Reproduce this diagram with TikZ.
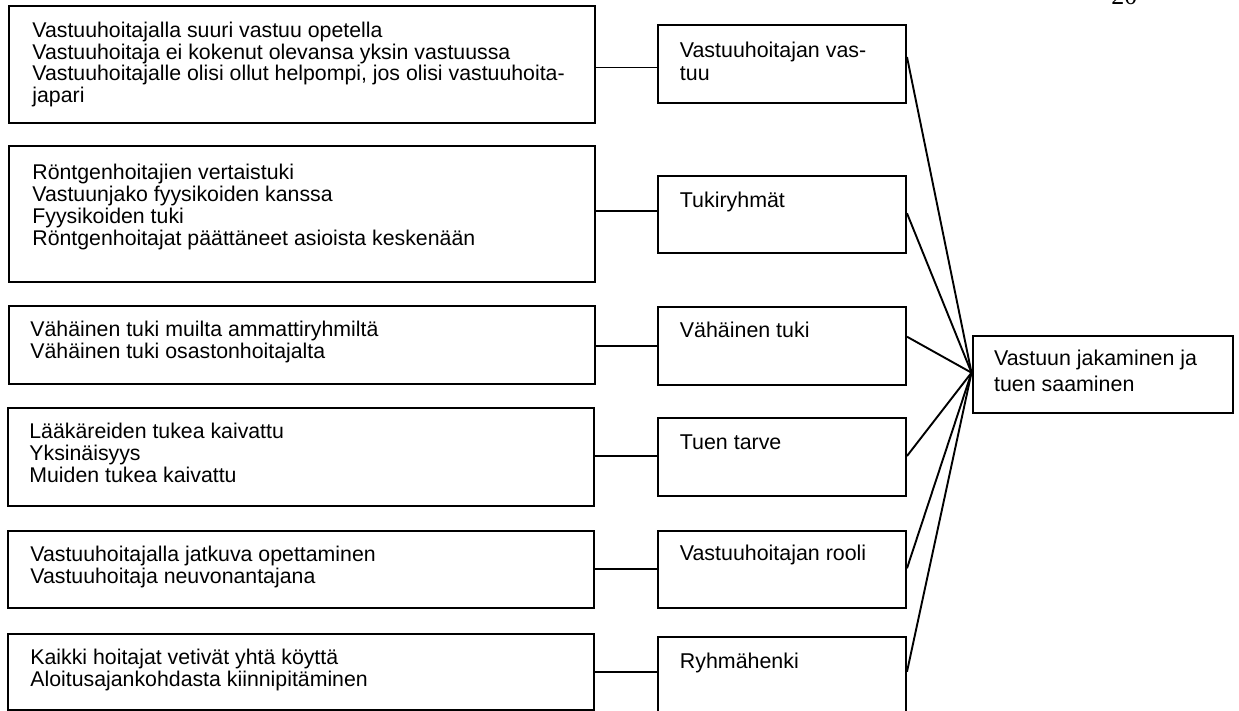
\documentclass[tikz,border=0pt]{standalone}
\usepackage{fontspec}
\setmainfont{Liberation Sans}
\newfontfamily\pagenumfont{Liberation Serif}
\usetikzlibrary{fit}
\tikzset{
  frame/.style={draw=black, line width=1pt, inner sep=0pt, fit={#1}},
  link/.style={draw=black, line width=0.95pt},
  lefttext/.style={inner sep=0pt, anchor=base west, font=\fontsize{10.65}{10.85}\selectfont},
  midtext/.style={inner sep=0pt, anchor=base west, font=\fontsize{10.7}{11.85}\selectfont},
  righttext/.style={inner sep=0pt, anchor=base west, font=\fontsize{10.7}{12.85}\selectfont},
}
\begin{document}
\begin{tikzpicture}[x=0.5pt, y=-0.5pt]
% Coordinates are in pixels of a 1239 x 711 page, y growing downwards.
\useasboundingbox (0,0) rectangle (1239,711);
\clip (0,0) rectangle (1239,711);

% page number, mostly above the top edge
\node[inner sep=0pt, anchor=base west, font=\pagenumfont\fontsize{13}{13}\selectfont]
  (pagenum) at (1111,5) {20};

% sub-category boxes (left column)
\node[frame={(9,5.7) (595,123.3)}] (l1) {};
\node[frame={(9,145.7) (595,282.3)}] (l2) {};
\node[frame={(9,306.3) (595,384.3)}] (l3) {};
\node[frame={(8.3,408.3) (594,505.7)}] (l4) {};
\node[frame={(8,530.7) (593.5,607.7)}] (l5) {};
\node[frame={(8,634) (593.5,709.5)}] (l6) {};

\node[lefttext] (l1t) at (32,37.5) {\parbox[t]{320pt}{Vastuuhoitajalla suuri vastuu opetella\\
  Vastuuhoitaja ei kokenut olevansa yksin vastuussa\\
  Vastuuhoitajalle olisi ollut helpompi, jos olisi vastuuhoita-\\
  japari}};
\node[lefttext] (l2t) at (32,180) {\parbox[t]{320pt}{Röntgenhoitajien vertaistuki\\
  Vastuunjako fyysikoiden kanssa\\
  Fyysikoiden tuki\\
  Röntgenhoitajat päättäneet asioista keskenään}};
\node[lefttext] (l3t) at (30,336.7) {\parbox[t]{320pt}{Vähäinen tuki muilta ammattiryhmiltä\\
  Vähäinen tuki osastonhoitajalta}};
\node[lefttext] (l4t) at (29,439) {\parbox[t]{320pt}{Lääkäreiden tukea kaivattu\\
  Yksinäisyys\\
  Muiden tukea kaivattu}};
\node[lefttext] (l5t) at (30,561.7) {\parbox[t]{320pt}{Vastuuhoitajalla jatkuva opettaminen\\
  Vastuuhoitaja neuvonantajana}};
\node[lefttext] (l6t) at (30,665) {\parbox[t]{320pt}{Kaikki hoitajat vetivät yhtä köyttä\\
  Aloitusajankohdasta kiinnipitäminen}};

% category boxes (middle column)
\node[frame={(658.3,25) (906,103)}] (m1) {};
\node[frame={(658.3,175.7) (906,253.3)}] (m2) {};
\node[frame={(658.3,307) (906,385)}] (m3) {};
\node[frame={(658.3,418.3) (906,495.7)}] (m4) {};
\node[frame={(658.3,531) (906,608.3)}] (m5) {};
\node[frame={(658.3,636.7) (906,720)}] (m6) {};

\node[midtext] (m1t) at (679.5,57.3) {\parbox[t]{120pt}{Vastuuhoitajan vas-\\tuu}};
\node[midtext] (m2t) at (679.5,207.3) {Tukiryhmät};
\node[midtext] (m3t) at (679.5,337.7) {Vähäinen tuki};
\node[midtext] (m4t) at (679.5,449.3) {Tuen tarve};
\node[midtext] (m5t) at (679.5,561) {Vastuuhoitajan rooli};
\node[midtext] (m6t) at (679.5,668.3) {Ryhmähenki};

% main category (right)
\node[frame={(972.5,336) (1233,413.3)}] (r) {};
\node[righttext] (rt) at (993.7,366) {\parbox[t]{120pt}{Vastuun jakaminen ja\\tuen saaminen}};

% connectors: left column to middle column
\draw[link] (l1.east |- 0,67.5) -- (m1.west |- 0,67.5);
\draw[link] (l2.east |- 0,211.3) -- (m2.west |- 0,211.3);
\draw[link] (l3.east |- 0,346.3) -- (m3.west |- 0,346.3);
\draw[link] (l4.east |- 0,456.3) -- (m4.west |- 0,456.3);
\draw[link] (l5.east |- 0,569) -- (m5.west |- 0,569);
\draw[link] (l6.east |- 0,672) -- (m6.west |- 0,672);

% connectors: middle column to main category
\coordinate (hub) at (r.west |- 0,372.7);
\draw[link] (m1.east |- 0,57) -- (hub);
\draw[link] (m2.east |- 0,213.3) -- (hub);
\draw[link] (m3.east |- 0,336.7) -- (hub);
\draw[link] (m4.east |- 0,456) -- (hub);
\draw[link] (m5.east |- 0,568.3) -- (hub);
\draw[link] (m6.east |- 0,671.7) -- (hub);
\end{tikzpicture}
\end{document}
